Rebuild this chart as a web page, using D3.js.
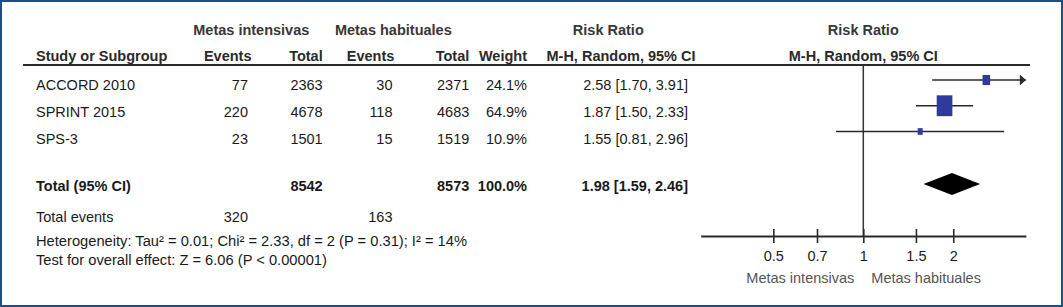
<!DOCTYPE html>
<html>
<head>
<meta charset="utf-8">
<script src="https://cdn.jsdelivr.net/npm/d3@7"></script>
<style>
  html, body { margin: 0; padding: 0; background: #fff; }
  svg { display: block; }
  text { font-family: "Liberation Sans", Arial, Helvetica, sans-serif; }
</style>
</head>
<body>
<svg id="chart" width="1063" height="307"></svg>
<script>
// ---------- data ----------
const studies    = ["ACCORD 2010", "SPRINT 2015", "SPS-3"];
const eventsInt  = [77, 220, 23];
const totalInt   = [2363, 4678, 1501];
const eventsHab  = [30, 118, 15];
const totalHab   = [2371, 4683, 1519];
const weights    = [24.1, 64.9, 10.9];
const riskRatio  = [2.58, 1.87, 1.55];
const ciLow      = [1.70, 1.50, 0.81];
const ciHigh     = [3.91, 2.33, 2.96];

const totalLabel     = "Total (95% CI)";
const totalIntN      = 8542;
const totalHabN      = 8573;
const totalWeight    = 100.0;
const pooledRR       = 1.98;
const pooledLow      = 1.59;
const pooledHigh     = 2.46;
const totalEventsInt = 320;
const totalEventsHab = 163;

const groupLabels   = ["Metas intensivas", "Metas habituales"];
const columnHeaders = ["Study or Subgroup", "Events", "Total", "Events", "Total", "Weight", "M-H, Random, 95% CI"];
const effectTitle   = "Risk Ratio";
const heterogeneity = "Heterogeneity: Tau² = 0.01; Chi² = 2.33, df = 2 (P = 0.31); I² = 14%";
const overallEffect = "Test for overall effect: Z = 6.06 (P < 0.00001)";
const tickValues    = [0.5, 0.7, 1, 1.5, 2];
const axisDomain    = [1 / 3.5, 3.5];

// ---------- layout ----------
const svg = d3.select("#chart");
const W = 1063, H = 307;
const txt = "#1a1a1a", hdr = "#2a2a2a";
const FS = 14.5;

svg.append("rect").attr("x", 1).attr("y", 1).attr("width", W - 2).attr("height", H - 2)
   .attr("fill", "#fff").attr("stroke", "#1b4f86").attr("stroke-width", 2);

const x = d3.scaleLog().domain(axisDomain).range([700.7, 1025.9]);
const markY = d3.scaleLinear().domain([0, 2]).range([80, 131.5]);
const textY = d3.scaleLinear().domain([0, 2]).range([90, 144]);
const boxW = d3.scaleLinear().domain([0, 100]).range([2.84, 22.6]);

const colStudy = 36;
const colRight = { evI: 248, totI: 322.7, evH: 392.5, totH: 469.3, wt: 527, rr: 688 };
const hdrRight = { evI: 251.5, totI: 322.7, evH: 394.3, totH: 469.3, wt: 527 };

function t(xp, yp, s, opts = {}) {
  return svg.append("text").attr("x", xp).attr("y", yp).text(s)
    .attr("font-size", opts.size || FS)
    .attr("font-weight", opts.bold ? "bold" : "normal")
    .attr("fill", opts.fill || txt)
    .attr("text-anchor", opts.anchor || "start");
}

// header row 1
t(251.3, 35, groupLabels[0], { bold: true, anchor: "middle", fill: "#383838" });
t(393.3, 35, groupLabels[1], { bold: true, anchor: "middle", fill: "#383838" });
t(608.3, 35, effectTitle, { bold: true, anchor: "middle", fill: "#383838" });
t(x(1), 35, effectTitle, { bold: true, anchor: "middle", fill: "#383838" });

// header row 2
const h2 = 60.5;
t(colStudy, h2, columnHeaders[0], { bold: true, fill: hdr });
t(hdrRight.evI, h2, columnHeaders[1], { bold: true, anchor: "end", fill: hdr });
t(hdrRight.totI, h2, columnHeaders[2], { bold: true, anchor: "end", fill: hdr });
t(hdrRight.evH, h2, columnHeaders[3], { bold: true, anchor: "end", fill: hdr });
t(hdrRight.totH, h2, columnHeaders[4], { bold: true, anchor: "end", fill: hdr });
t(hdrRight.wt, h2, columnHeaders[5], { bold: true, anchor: "end", fill: hdr });
t(621, h2, columnHeaders[6], { bold: true, anchor: "middle", fill: hdr });
t(x(1), h2, columnHeaders[6], { bold: true, anchor: "middle", fill: hdr });

// header rule
svg.append("line").attr("x1", 23).attr("x2", 1030).attr("y1", 65).attr("y2", 65)
   .attr("stroke", "#2a2a2a").attr("stroke-width", 2);

// study rows
const f2 = d3.format(".2f"), f1 = d3.format(".1f");
studies.forEach((s, i) => {
  const y = textY(i);
  t(colStudy, y, s);
  t(colRight.evI, y, eventsInt[i], { anchor: "end" });
  t(colRight.totI, y, totalInt[i], { anchor: "end" });
  t(colRight.evH, y, eventsHab[i], { anchor: "end" });
  t(colRight.totH, y, totalHab[i], { anchor: "end" });
  t(colRight.wt, y, f1(weights[i]) + "%", { anchor: "end" });
  t(colRight.rr, y, `${f2(riskRatio[i])} [${f2(ciLow[i])}, ${f2(ciHigh[i])}]`, { anchor: "end" });
});

// total row
const ty = 191;
t(colStudy, ty, totalLabel, { bold: true });
t(colRight.totI, ty, totalIntN, { bold: true, anchor: "end" });
t(colRight.totH, ty, totalHabN, { bold: true, anchor: "end" });
t(colRight.wt, ty, f1(totalWeight) + "%", { bold: true, anchor: "end" });
t(colRight.rr, ty, `${f2(pooledRR)} [${f2(pooledLow)}, ${f2(pooledHigh)}]`, { bold: true, anchor: "end" });

// total events
const ey = 221.5;
t(colStudy, ey, "Total events");
t(colRight.evI, ey, totalEventsInt, { anchor: "end" });
t(colRight.evH, ey, totalEventsHab, { anchor: "end" });

t(colStudy, 246, heterogeneity, { size: 14.7 });
t(colStudy, 265, overallEffect, { size: 14.7 });

// ---------- forest plot ----------
const axisY = 236;
svg.append("line").attr("x1", x(1)).attr("x2", x(1)).attr("y1", 66).attr("y2", axisY)
   .attr("stroke", "#333").attr("stroke-width", 1.5);

const [dMin, dMax] = x.domain();
studies.forEach((s, i) => {
  const y = markY(i);
  const lo = Math.max(ciLow[i], dMin), hi = Math.min(ciHigh[i], dMax);
  svg.append("line").attr("x1", x(lo)).attr("x2", x(hi)).attr("y1", y).attr("y2", y)
     .attr("stroke", "#2a2a2a").attr("stroke-width", 1.6);
  if (ciHigh[i] > dMax) {
    const xe = x(dMax);
    svg.append("path").attr("d", `M${xe},${y} L${xe - 6},${y - 5.5} L${xe - 6},${y + 5.5} Z`)
       .attr("fill", "#2a2a2a");
  }
  if (ciLow[i] < dMin) {
    const xs = x(dMin);
    svg.append("path").attr("d", `M${xs},${y} L${xs + 6},${y - 5.5} L${xs + 6},${y + 5.5} Z`)
       .attr("fill", "#2a2a2a");
  }
  const bw = boxW(weights[i]), bh = bw * 1.33;
  svg.append("rect").attr("x", x(riskRatio[i]) - bw / 2).attr("y", y - bh / 2)
     .attr("width", bw).attr("height", bh).attr("fill", "#2e3a9e");
});

// pooled diamond
const dy = 184, dh = 11;
svg.append("path")
   .attr("d", `M${x(pooledLow)},${dy} L${x(pooledRR)},${dy - dh} L${x(pooledHigh)},${dy} L${x(pooledRR)},${dy + dh} Z`)
   .attr("fill", "#000");

// axis
const axis = d3.axisBottom(x).tickValues(tickValues).tickFormat(d => String(d))
   .tickSizeInner(7).tickSizeOuter(0).tickPadding(8);
const ag = svg.append("g").attr("transform", `translate(0,${axisY})`).call(axis);
ag.select(".domain").attr("stroke", "#2a2a2a").attr("stroke-width", 2);
ag.selectAll(".tick line").attr("y1", -7).attr("y2", 7).attr("stroke", "#2a2a2a").attr("stroke-width", 1.6);
ag.selectAll(".tick text").attr("font-size", FS).attr("fill", "#1a1a1a")
   .attr("font-family", "'Liberation Sans', Arial, sans-serif");

// axis direction labels
t(x(1) - 9, 283, groupLabels[0], { anchor: "end", fill: "#555" });
t(x(1) + 8, 283, groupLabels[1], { anchor: "start", fill: "#555" });
</script>
</body>
</html>
